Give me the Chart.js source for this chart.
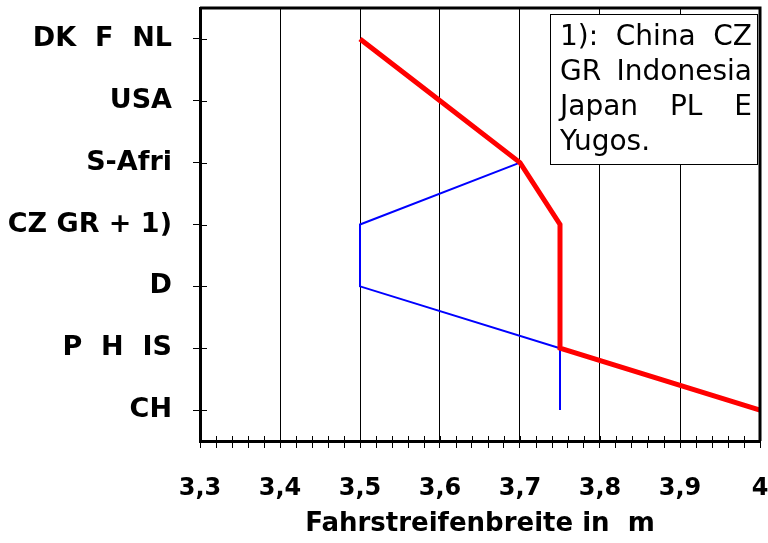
<!DOCTYPE html>
<html>
<head>
<meta charset="utf-8">
<script src="https://cdn.jsdelivr.net/npm/chart.js@4/dist/chart.umd.min.js"></script>
<style>
  html, body { margin: 0; padding: 0; background: #fff; }
  canvas { display: block; }
</style>
</head>
<body>
<canvas id="c" width="768" height="543"></canvas>
<script>
// ---- data ----
const categories = ['DK  F  NL', 'USA', 'S-Afri', 'CZ GR + 1)', 'D', 'P  H  IS', 'CH'];
const redWidths  = [3.5, 3.6, 3.7, 3.75, 3.75, 3.75, 4.0];
const blueWidths = [null, null, 3.7, 3.5, 3.5, 3.75, 3.75];
const xTickValues = [3.3, 3.4, 3.5, 3.6, 3.7, 3.8, 3.9, 4.0];
const xTickLabels = ['3,3', '3,4', '3,5', '3,6', '3,7', '3,8', '3,9', '4'];
const xTitle = 'Fahrstreifenbreite in  m';
const noteLines = [['1):', 'China', 'CZ'], ['GR', 'Indonesia'], ['Japan', 'PL', 'E'], ['Yugos.']];

const toPoints = (vals) => categories
  .map((c, i) => ({ x: vals[i], y: c }))
  .filter(p => p.x !== null);

const isMajor = (v) => Math.abs(v * 10 - Math.round(v * 10)) < 1e-6;
const labelFor = (v) => {
  const i = xTickValues.findIndex(t => Math.abs(t - v) < 1e-6);
  return i >= 0 ? xTickLabels[i] : '';
};

const FONT = "'DejaVu Sans', sans-serif";

const framePlugin = {
  id: 'frame',
  afterDraw(chart) {
    const { ctx, chartArea: a } = chart;
    const xs = chart.scales.x, ys = chart.scales.y;
    ctx.save();
    ctx.strokeStyle = '#000';
    // inner halves of tick marks (ticks cross the axes)
    ctx.lineWidth = 1;
    ctx.beginPath();
    xs.ticks.forEach(t => {
      const px = Math.round(xs.getPixelForValue(t.value)) + 0.5;
      ctx.moveTo(px, a.bottom);
      ctx.lineTo(px, a.bottom - 5);
    });
    ys.ticks.forEach((t, i) => {
      const py = Math.round(ys.getPixelForTick(i)) + 0.5;
      ctx.moveTo(a.left, py);
      ctx.lineTo(a.left + 7, py);
    });
    ctx.stroke();
    // top and right frame
    ctx.lineWidth = 3;
    ctx.beginPath();
    ctx.moveTo(a.left, a.top);
    ctx.lineTo(a.right, a.top);
    ctx.lineTo(a.right, a.bottom);
    ctx.stroke();

    // note box
    const bx = a.right - 210, by = a.top + 6, bw = 207, bh = 150;
    ctx.fillStyle = '#fff';
    ctx.fillRect(bx, by, bw, bh);
    ctx.lineWidth = 1;
    ctx.strokeRect(bx + 0.5, by + 0.5, bw, bh);
    ctx.fillStyle = '#000';
    ctx.font = "28px " + FONT;
    ctx.textBaseline = 'alphabetic';
    ctx.textAlign = 'left';
    const tl = bx + 10, tr = bx + bw - 5;
    noteLines.forEach((words, li) => {
      const base = by + 31 + li * 35;
      if (li === noteLines.length - 1 || words.length === 1) {
        ctx.fillText(words.join(' '), tl, base);
        return;
      }
      const widths = words.map(w => ctx.measureText(w).width);
      const total = widths.reduce((s, w) => s + w, 0);
      const gap = (tr - tl - total) / (words.length - 1);
      let x = tl;
      words.forEach((w, k) => { ctx.fillText(w, x, base); x += widths[k] + gap; });
    });
    ctx.restore();
  }
};

new Chart(document.getElementById('c'), {
  type: 'line',
  data: {
    datasets: [
      { data: toPoints(redWidths), borderColor: '#FF0000', borderWidth: 5, pointRadius: 0, tension: 0, order: 0, borderJoinStyle: 'miter' },
      { data: toPoints(blueWidths), borderColor: '#0000FF', borderWidth: 2, pointRadius: 0, tension: 0, order: 1 }
    ]
  },
  options: {
    responsive: false,
    animation: false,
    devicePixelRatio: 1,
    layout: { padding: { top: 8, right: 8, left: 0, bottom: 0 } },
    plugins: { legend: { display: false }, tooltip: { enabled: false } },
    scales: {
      x: {
        type: 'linear',
        min: 3.3, max: 4.0,
        afterFit(s) { s.height = 102; s.paddingLeft = 0; s.paddingRight = 0; },
        ticks: {
          stepSize: 0.02, autoSkip: false, maxRotation: 0, padding: 26,
          color: '#000', font: { family: FONT, size: 24, weight: 'bold' },
          callback: (v) => labelFor(v)
        },
        grid: {
          color: (c) => (c.tick && isMajor(c.tick.value)) ? '#000' : 'rgba(0,0,0,0)',
          lineWidth: 1, tickColor: '#000', tickLength: 7, drawTicks: true
        },
        border: { display: true, color: '#000', width: 3 },
        title: {
          display: true, text: xTitle, color: '#000',
          font: { family: FONT, size: 26, weight: 'bold' },
          padding: { top: 0, bottom: 3 }
        }
      },
      y: {
        type: 'category',
        labels: categories,
        offset: true,
        afterFit(s) { s.width = 200; s.paddingTop = 0; s.paddingBottom = 0; },
        ticks: {
          autoSkip: false, padding: 21, color: '#000',
          font: { family: FONT, size: 27, weight: 'bold' }
        },
        grid: { color: 'rgba(0,0,0,0)', tickColor: '#000', tickLength: 7, drawTicks: true, offset: false },
        border: { display: true, color: '#000', width: 3 }
      }
    }
  },
  plugins: [framePlugin]
});
</script>
</body>
</html>
